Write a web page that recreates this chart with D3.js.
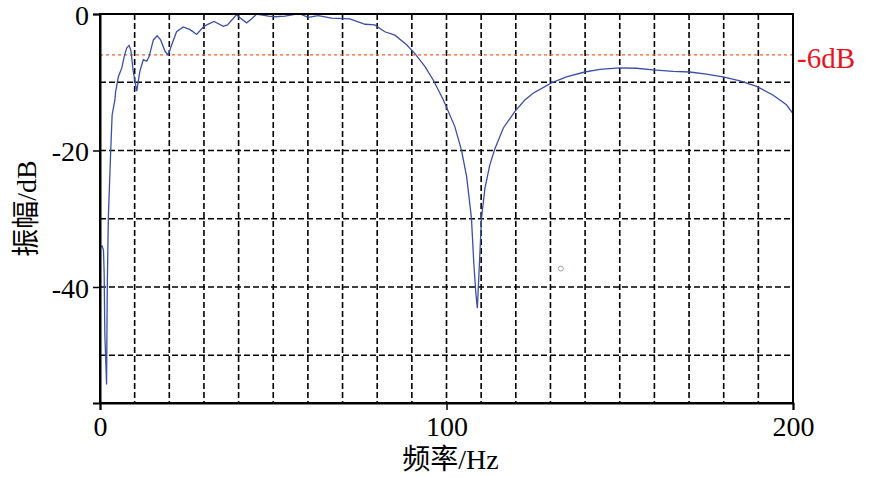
<!DOCTYPE html>
<html>
<head>
<meta charset="utf-8">
<script src="https://cdn.jsdelivr.net/npm/d3@7"></script>
<style>
  html, body { margin: 0; padding: 0; background: #fff; }
  svg { display: block; }
  text { font-family: "Liberation Serif", "Times New Roman", "Noto Sans CJK SC", serif; }
</style>
</head>
<body>
<svg id="chart" width="871" height="477"></svg>
<script>
// ---- data ----
const freq = [0, 0.6, 1.0, 1.2, 1.4, 1.9, 2.1, 2.4, 3.1, 3.5, 4.3, 4.5, 5.3, 6.3, 7.0, 7.7, 8.4, 8.9, 9.6, 10.6,
  11.5, 12.5, 13.5, 14.2, 15.4, 16.5, 17.5, 18.8, 19.7, 20.7, 22.1, 24.0, 26.0, 27.9, 29.8, 30.8, 32.9, 35.6, 36.8,
  39.4, 40.5, 42.3, 43.8, 45.2, 48.6, 50.5, 53.4, 56.3, 57.7, 60.1, 63.0, 66.8, 72.1, 76.5, 79.3, 82.2, 85.1, 88.5,
  90.9, 93.8, 96.2, 99.1, 102.4, 104.3, 105.8, 107.2, 107.9, 108.5, 108.9, 109.4, 110.1, 111.1, 112.5, 114.0, 116.4,
  119.7, 122.6, 125.0, 130.3, 134.6, 139.9, 144.3, 150.0, 154.8, 159.6, 165.4, 170.2, 175.0, 179.8, 184.7, 189.5,
  194.3, 198.1, 200];
const amplitude = [-34.2, -34.0, -34.6, -38.0, -47.0, -54.3, -40.0, -30.0, -19.9, -14.8, -12.6, -11.4, -9.2, -7.9, -6.2, -5.0, -4.6, -5.3, -8.4, -11.3,
  -8.4, -6.7, -6.9, -6.2, -3.8, -3.2, -3.8, -5.5, -6.0, -4.5, -2.6, -1.9, -2.3, -3.0, -1.9, -1.6, -1.1, -1.8, -1.6,
  -0.1, -0.6, -1.3, -0.7, 0.0, -0.3, -0.4, -0.3, -0.05, 0.0, -0.5, -0.25, -0.6, -0.7, -1.5, -1.6, -2.6, -3.1, -4.5,
  -5.8, -7.7, -9.7, -12.6, -16.5, -19.9, -23.8, -29.9, -36.7, -41.1, -43.1, -37.7, -29.9, -25.5, -22.1, -19.7, -16.7,
  -14.3, -12.6, -11.6, -10.1, -9.2, -8.5, -8.1, -7.9, -7.95, -8.2, -8.4, -8.5, -8.8, -9.2, -9.8, -10.6,
  -11.9, -13.3, -14.6];
const xTicks = [0, 100, 200];
const yTicks = [0, -20, -40];
const xGrid = [10, 20, 30, 40, 50, 60, 70, 80, 90, 100, 110, 120, 130, 140, 150, 160, 170, 180, 190];
const yGrid = [-10, -20, -30, -40, -50];
const refLevel = [-6];
const refLabel = ["-6dB"];
const markerPts = [[133.0, -37.3]];
const xTitle = "频率/Hz";
const yTitle = "振幅/dB";

// ---- layout ----
const W = 871, H = 477;
const m = { left: 100, right: 78, top: 14, bottom: 74 };
const svg = d3.select("#chart");
const x = d3.scaleLinear().domain([0, 200]).range([m.left, W - m.right]);
const y = d3.scaleLinear().domain([-57, 0]).range([H - m.bottom, m.top]);

// grid
const g = svg.append("g");
g.selectAll(".vg").data(xGrid).join("line")
  .attr("x1", d => x(d)).attr("x2", d => x(d))
  .attr("y1", y(0)).attr("y2", y(-57))
  .attr("stroke", "#000").attr("stroke-width", 1.6).attr("stroke-dasharray", "6,3");
g.selectAll(".hg").data(yGrid).join("line")
  .attr("x1", x(0)).attr("x2", x(200))
  .attr("y1", d => y(d)).attr("y2", d => y(d))
  .attr("stroke", "#000").attr("stroke-width", 1.6).attr("stroke-dasharray", "6,3");

// -6dB reference
svg.selectAll(".ref").data(refLevel).join("line")
  .attr("x1", x(0)).attr("x2", x(200))
  .attr("y1", d => y(d)).attr("y2", d => y(d))
  .attr("stroke", "#f0622e").attr("stroke-width", 1.3).attr("stroke-dasharray", "3,3");
svg.selectAll(".reflab").data(refLabel).join("text")
  .attr("x", x(200) + 4).attr("y", y(refLevel[0]) + 13)
  .attr("font-size", 29).attr("fill", "#e8141c").text(d => d);

// curve
const pts = freq.map((f, i) => [f, amplitude[i]]);
svg.append("path").datum(pts)
  .attr("fill", "none").attr("stroke", "#3b4fa6").attr("stroke-width", 1.3)
  .attr("d", d3.line().x(d => x(d[0])).y(d => y(d[1])));

// marker
svg.selectAll(".mk").data(markerPts).join("circle")
  .attr("cx", d => x(d[0])).attr("cy", d => y(d[1])).attr("r", 2.5)
  .attr("fill", "none").attr("stroke", "#9aa1b6").attr("stroke-width", 1);

// frame
svg.append("rect").attr("x", x(0)).attr("y", y(0))
  .attr("width", x(200) - x(0)).attr("height", y(-57) - y(0))
  .attr("fill", "none").attr("stroke", "#000").attr("stroke-width", 2);

// axes
const xAxis = svg.append("g").attr("transform", `translate(0,${y(-57)})`)
  .call(d3.axisBottom(x).tickValues(xTicks).tickSize(7).tickPadding(6).tickFormat(d3.format("d")));
const yAxis = svg.append("g").attr("transform", `translate(${x(0)},0)`)
  .call(d3.axisLeft(y).tickValues(yTicks).tickSize(7).tickPadding(4).tickFormat(d => d === 0 ? "0" : String(d)));
[xAxis, yAxis].forEach(a => {
  a.select(".domain").attr("stroke", "#000").attr("stroke-width", 2);
  a.selectAll(".tick line").attr("stroke", "#000").attr("stroke-width", 1.5);
  a.selectAll(".tick text").attr("fill", "#000").attr("font-size", 28)
    .attr("font-family", "'Liberation Serif', 'Times New Roman', serif");
});
yAxis.selectAll(".tick text").attr("dy", "0.36em");

// titles
svg.append("text").attr("x", (x(0) + x(200)) / 2 + 4).attr("y", 469)
  .attr("text-anchor", "middle").attr("font-size", 28).attr("fill", "#000").text(xTitle);
svg.append("text").attr("transform", `translate(36,${(y(0) + y(-57)) / 2}) rotate(-90)`)
  .attr("text-anchor", "middle").attr("font-size", 28).attr("fill", "#000").text(yTitle);
</script>
</body>
</html>
